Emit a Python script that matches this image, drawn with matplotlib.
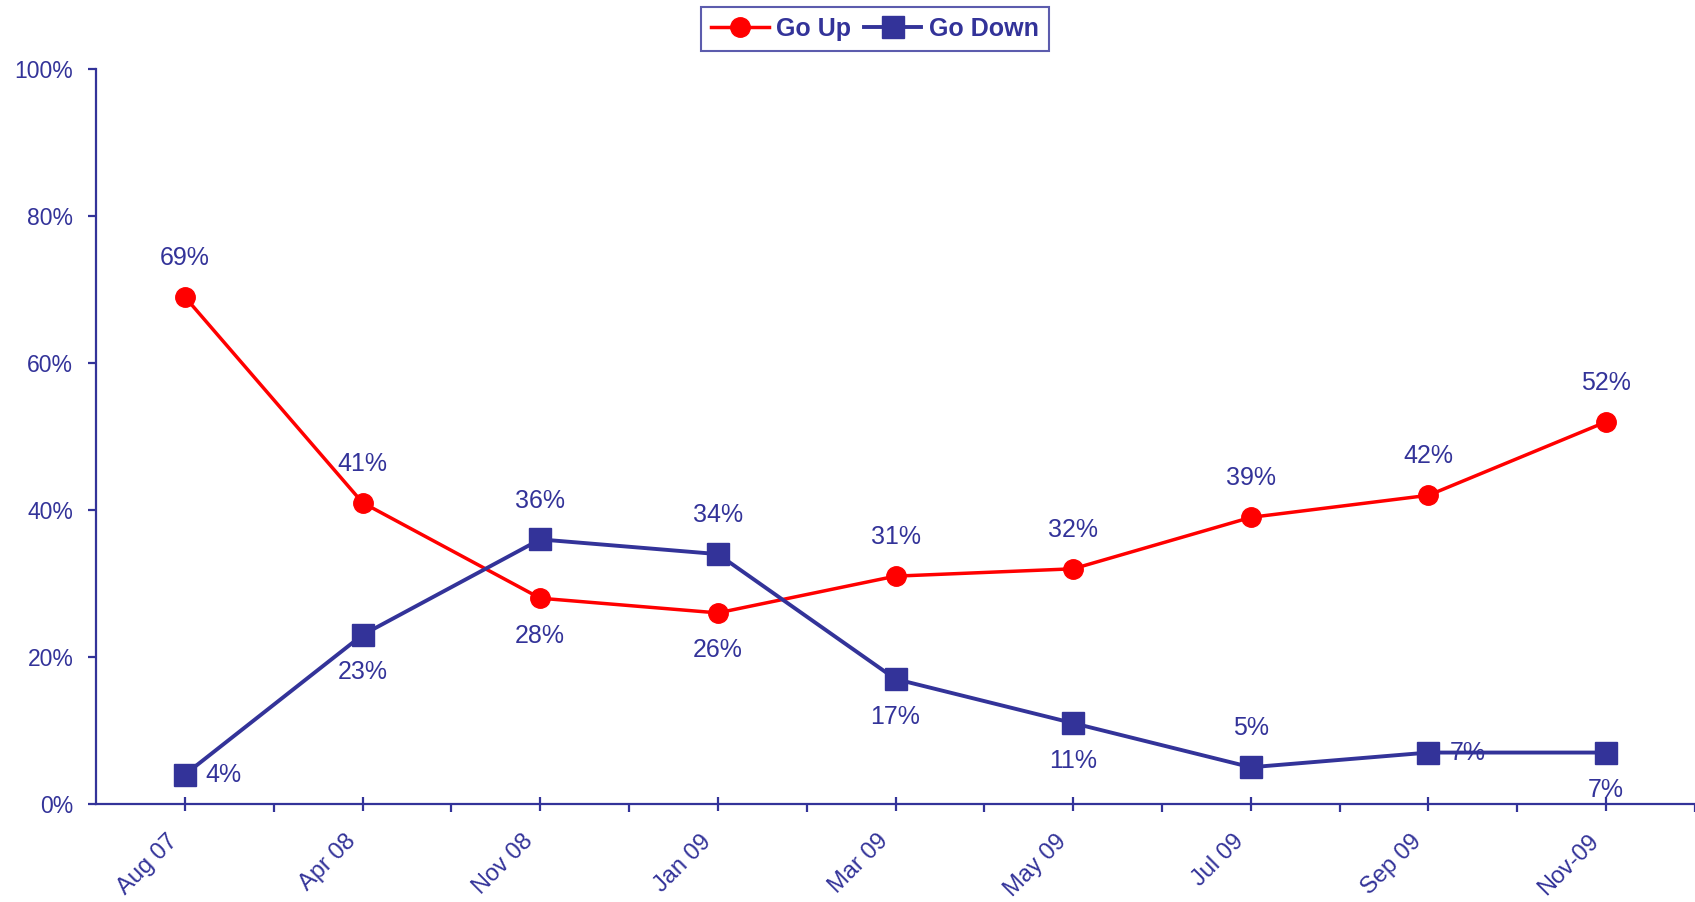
import matplotlib
matplotlib.use("Agg")
import matplotlib.pyplot as plt
from matplotlib.ticker import FixedLocator, PercentFormatter

categories = ["Aug 07", "Apr 08", "Nov 08", "Jan 09", "Mar 09", "May 09", "Jul 09", "Sep 09", "Nov-09"]
go_up = [69, 41, 28, 26, 31, 32, 39, 42, 52]
go_down = [4, 23, 36, 34, 17, 11, 5, 7, 7]
# label placement: 'a' above, 'b' below, 'r' right
up_pos = ["a", "a", "b", "b", "a", "a", "a", "a", "a"]
down_pos = ["r", "b", "a", "a", "b", "b", "a", "r", "b"]

RED = "#FF0000"
BLUE = "#333399"

plt.rcParams["font.family"] = ["Liberation Sans", "DejaVu Sans"]

fig = plt.figure(figsize=(16.95, 9.02), dpi=100)
ax = fig.add_axes([96/1695, 1-804/902, 1-96/1695, (804-69)/902])

x = list(range(len(categories)))
ax.plot(x, go_up, color=RED, lw=2.5, marker="o", ms=14, mfc=RED, mec=RED, label="Go Up", zorder=3)
ax.plot(x, go_down, color=BLUE, lw=2.8, marker="s", ms=16.5, mfc=BLUE, mec=BLUE, label="Go Down", zorder=3)

def place(vals, pos):
    for xi, v, p in zip(x, vals, pos):
        if p == "a":
            off, ha, va = (0, 28), "center", "center"
        elif p == "b":
            off, ha, va = (0, -27), "center", "center"
        else:
            off, ha, va = (15, 0), "left", "center"
        ax.annotate(f"{v}%", (xi, v), xytext=off, textcoords="offset points",
                    ha=ha, va=va, fontsize=18, color=BLUE, zorder=4)

place(go_up, up_pos)
place(go_down, down_pos)

ax.set_xlim(-0.5, len(categories) - 0.5)
ax.set_ylim(0, 100)
ax.yaxis.set_major_locator(FixedLocator([0, 20, 40, 60, 80, 100]))
ax.yaxis.set_major_formatter(PercentFormatter(decimals=0))

ax.set_xticks(x)
ax.set_xticklabels([])
ax.set_xticks([i + 0.5 for i in x], minor=True)
for xi, lab in zip(x, categories):
    ax.annotate(lab, xy=(xi, 0), xycoords=("data", "axes fraction"),
                xytext=(-13, -19), textcoords="offset points",
                rotation=45, rotation_mode="anchor", ha="right", va="top",
                fontsize=17, color=BLUE, annotation_clip=False)

for s in ["top", "right"]:
    ax.spines[s].set_visible(False)
for s in ["left", "bottom"]:
    ax.spines[s].set_color(BLUE)
    ax.spines[s].set_linewidth(1.6)

ax.tick_params(axis="x", which="major", direction="inout", length=9.5, width=1.6, color=BLUE)
ax.tick_params(axis="x", which="minor", direction="out", length=5.8, width=1.6, color=BLUE)
ax.tick_params(axis="y", which="major", direction="out", length=5.8, width=1.6, color=BLUE,
               labelcolor=BLUE, labelsize=16.5, pad=10.5)

leg = fig.legend(loc="center", bbox_to_anchor=(875/1695, 1-29/902), ncol=2, frameon=True,
                 fancybox=False, edgecolor=BLUE, handlelength=2.3, handletextpad=0.3,
                 columnspacing=0.5, borderpad=0.4, prop={"weight": "bold", "size": 18})
leg.get_frame().set_linewidth(1.5)
for t in leg.get_texts():
    t.set_color(BLUE)

fig.savefig("out.png", dpi=100)
